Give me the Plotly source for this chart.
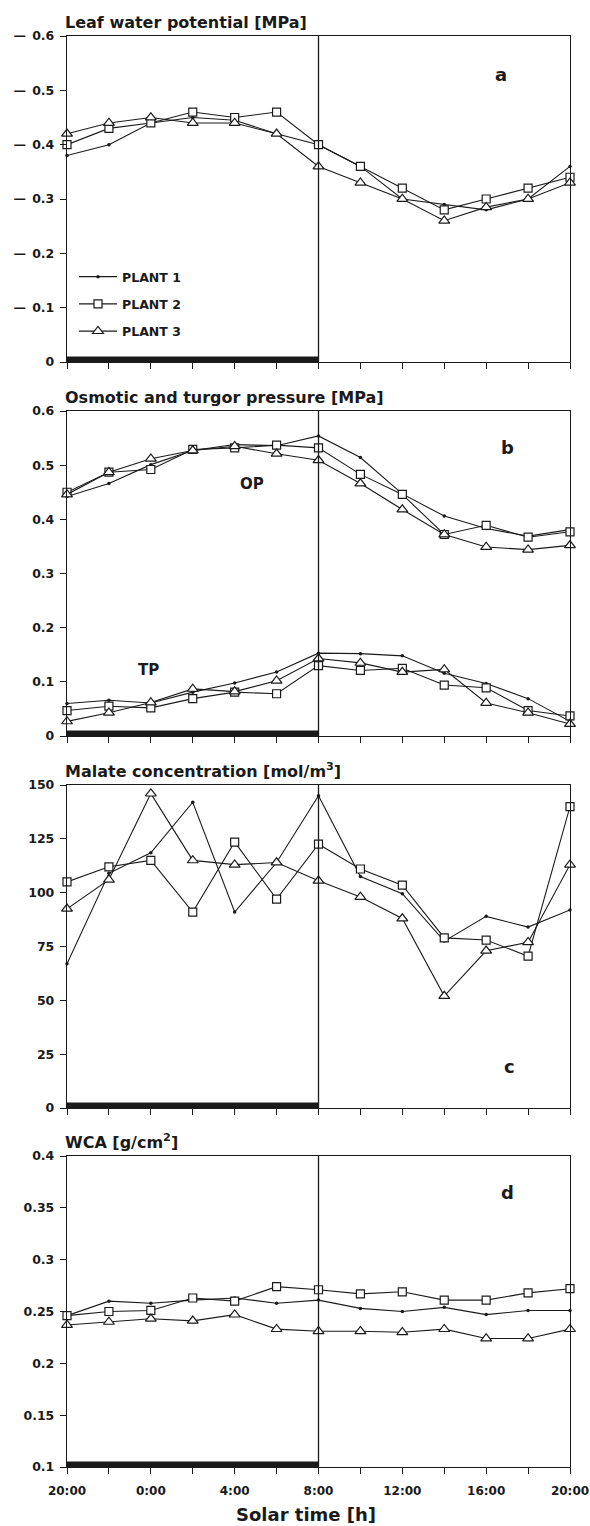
import plotly.graph_objects as go

# ---------------- data ----------------
hours = [0, 2, 4, 6, 8, 10, 12, 14, 16, 18, 20, 22, 24]
time_ticktext = ["20:00", "", "0:00", "", "4:00", "", "8:00", "", "12:00", "", "16:00", "", "20:00"]

# (a) leaf water potential, magnitude of negative MPa
lwp_p1 = [0.38, 0.40, 0.44, 0.45, 0.445, 0.42, 0.40, 0.36, 0.30, 0.29, 0.28, 0.30, 0.36]
lwp_p2 = [0.40, 0.43, 0.44, 0.46, 0.45, 0.46, 0.40, 0.36, 0.32, 0.28, 0.30, 0.32, 0.34]
lwp_p3 = [0.42, 0.44, 0.45, 0.44, 0.44, 0.42, 0.36, 0.33, 0.30, 0.26, 0.285, 0.30, 0.33]

# (b) osmotic pressure (OP) and turgor pressure (TP), MPa
op_p1 = [0.442, 0.466, 0.501, 0.527, 0.538, 0.536, 0.554, 0.514, 0.447, 0.406, 0.383, 0.369, 0.381]
op_p2 = [0.450, 0.487, 0.492, 0.529, 0.532, 0.537, 0.532, 0.483, 0.446, 0.372, 0.389, 0.367, 0.377]
op_p3 = [0.446, 0.487, 0.512, 0.527, 0.535, 0.521, 0.509, 0.466, 0.418, 0.372, 0.349, 0.344, 0.352]
tp_p1 = [0.060, 0.066, 0.061, 0.081, 0.098, 0.118, 0.153, 0.152, 0.148, 0.116, 0.097, 0.069, 0.027]
tp_p2 = [0.047, 0.055, 0.052, 0.069, 0.081, 0.078, 0.130, 0.121, 0.125, 0.094, 0.089, 0.047, 0.037]
tp_p3 = [0.027, 0.043, 0.062, 0.087, 0.082, 0.102, 0.143, 0.135, 0.118, 0.123, 0.061, 0.043, 0.022]

# (c) malate concentration, mol/m3
mal_p1 = [67, 109, 118.5, 142, 91, 114, 145, 107.5, 99.5, 77.5, 89, 84, 92]
mal_p2 = [105, 112, 115, 91, 123.5, 97, 122.5, 111, 103.5, 79, 78, 70.5, 140]
mal_p3 = [92.5, 106, 146, 115, 113, 114, 105.5, 98, 88, 52, 73, 77, 113]

# (d) WCA, g/cm2
wca_p1 = [0.246, 0.260, 0.258, 0.261, 0.263, 0.258, 0.261, 0.253, 0.250, 0.254, 0.247, 0.251, 0.251]
wca_p2 = [0.246, 0.250, 0.251, 0.263, 0.260, 0.274, 0.271, 0.267, 0.269, 0.261, 0.261, 0.268, 0.272]
wca_p3 = [0.237, 0.240, 0.243, 0.241, 0.247, 0.233, 0.231, 0.231, 0.230, 0.233, 0.224, 0.224, 0.233]

plant_names = ["PLANT 1", "PLANT 2", "PLANT 3"]

# ---------------- styling ----------------
FONT = "DejaVu Sans, Verdana, sans-serif"
INK = "#1a1a1a"
W, H = 590, 1526

def py(px):
    return 1 - px / H

X_LEFT, X_RIGHT = 67, 570
x_dom = [X_LEFT / W, X_RIGHT / W]
panels = {
    1: (36, 362),
    2: (411, 736),
    3: (785, 1108),
    4: (1156, 1467),
}

marker_styles = [
    dict(symbol="circle", size=3.5, color=INK, line=dict(width=0)),
    dict(symbol="square", size=8, color="white", line=dict(width=1.2, color=INK)),
    dict(symbol="triangle-up", size=9.5, color="white", line=dict(width=1.2, color=INK)),
]

fig = go.Figure()

def add_series(series, axis_idx, show_legend=False):
    xa = "x" if axis_idx == 1 else f"x{axis_idx}"
    ya = "y" if axis_idx == 1 else f"y{axis_idx}"
    for k, vals in enumerate(series):
        fig.add_trace(go.Scatter(
            x=hours, y=vals, mode="lines+markers",
            name=plant_names[k], legendgroup=f"p{k+1}",
            showlegend=show_legend,
            line=dict(color=INK, width=1.1),
            marker=marker_styles[k],
            cliponaxis=False,
            xaxis=xa, yaxis=ya,
        ))

add_series([lwp_p1, lwp_p2, lwp_p3], 1, show_legend=True)
add_series([op_p1, op_p2, op_p3], 2)
add_series([tp_p1, tp_p2, tp_p3], 2)
add_series([mal_p1, mal_p2, mal_p3], 3)
add_series([wca_p1, wca_p2, wca_p3], 4)

ytick_font = dict(family=FONT, size=12.5, color=INK, weight="bold")
xtick_font = dict(family=FONT, size=12, color=INK, weight="bold")

y_specs = {
    1: dict(range=[0, 0.6], tickvals=[0, 0.1, 0.2, 0.3, 0.4, 0.5, 0.6],
            ticktext=["0"] + ["—\u2002" + v for v in ["0.1", "0.2", "0.3", "0.4", "0.5", "0.6"]]),
    2: dict(range=[0, 0.6], tickvals=[0, 0.1, 0.2, 0.3, 0.4, 0.5, 0.6],
            ticktext=["0", "0.1", "0.2", "0.3", "0.4", "0.5", "0.6"]),
    3: dict(range=[0, 150], tickvals=[0, 25, 50, 75, 100, 125, 150],
            ticktext=["0", "25", "50", "75", "100", "125", "150"]),
    4: dict(range=[0.1, 0.4], tickvals=[0.1, 0.15, 0.2, 0.25, 0.3, 0.35, 0.4],
            ticktext=["0.1", "0.15", "0.2", "0.25", "0.3", "0.35", "0.4"]),
}

layout = dict(
    width=W, height=H, autosize=False,
    margin=dict(l=0, r=0, t=0, b=0, pad=0, autoexpand=False),
    paper_bgcolor="white", plot_bgcolor="white",
    font=dict(family=FONT, color=INK),
    showlegend=True,
    legend=dict(
        x=74 / W, y=py(262), xanchor="left", yanchor="top",
        font=dict(family=FONT, size=12.5, color=INK, weight="bold"),
        bgcolor="rgba(0,0,0,0)", tracegroupgap=8, itemwidth=38,
    ),
)

for i, (top, bot) in panels.items():
    xk = "xaxis" if i == 1 else f"xaxis{i}"
    yk = "yaxis" if i == 1 else f"yaxis{i}"
    anchor_y = "y" if i == 1 else f"y{i}"
    anchor_x = "x" if i == 1 else f"x{i}"
    layout[xk] = dict(
        domain=x_dom, anchor=anchor_y, range=[0, 24], automargin=False,
        tickvals=hours, ticktext=time_ticktext if i == 4 else [""] * len(hours),
        ticks="outside", ticklen=6, tickwidth=1.3, tickcolor=INK,
        showline=True, linecolor=INK, linewidth=1.4, mirror=True,
        showgrid=False, zeroline=False, tickfont=xtick_font,
        ticklabelstandoff=6, ticklabeloverflow="allow",
        fixedrange=True,
    )
    ys = y_specs[i]
    layout[yk] = dict(
        domain=[py(bot), py(top)], anchor=anchor_x, automargin=False,
        range=ys["range"], tickvals=ys["tickvals"], ticktext=ys["ticktext"],
        ticks="outside", ticklen=6, tickwidth=1.3, tickcolor=INK,
        showline=True, linecolor=INK, linewidth=1.4, mirror=True,
        showgrid=False, zeroline=False, tickfont=ytick_font,
        ticklabelstandoff=3, ticklabeloverflow="allow",
        fixedrange=True,
    )

fig.update_layout(**layout)

# x-axis title as a bottom annotation (kept inside the page)
fig.add_annotation(text="Solar time [h]", xref="paper", yref="paper",
                   x=306 / W, y=py(1514), xanchor="center", yanchor="middle",
                   showarrow=False,
                   font=dict(family=FONT, size=18, color=INK, weight="bold"))

# vertical 8:00 line and night bar in each panel
for i in panels:
    xr = "x" if i == 1 else f"x{i}"
    yd = "y domain" if i == 1 else f"y{i} domain"
    fig.add_shape(type="line", xref=xr, yref=yd, x0=12, x1=12, y0=0, y1=1,
                  line=dict(color=INK, width=1.3))
    fig.add_shape(type="line", xref=xr, yref=yd, x0=0, x1=12, y0=0.008, y1=0.008,
                  line=dict(color=INK, width=6))

# panel titles
titles = {
    1: "Leaf water potential [MPa]",
    2: "Osmotic and turgor pressure [MPa]",
    3: "Malate concentration [mol/m<sup>3</sup>]",
    4: "WCA [g/cm<sup>2</sup>]",
}
for i, (top, bot) in panels.items():
    fig.add_annotation(text=titles[i], xref="paper", yref="paper",
                       x=63 / W, y=py(top), xanchor="left", yanchor="bottom",
                       yshift=2, showarrow=False,
                       font=dict(family=FONT, size=16, color=INK, weight="bold"))

# panel letters
letters = [(1, "a", 20.7, 0.53), (2, "b", 21.0, 0.532), (3, "c", 21.1, 19.3), (4, "d", 21.0, 0.365)]
for i, t, xv, yv in letters:
    fig.add_annotation(text=t, xref="x" if i == 1 else f"x{i}", yref="y" if i == 1 else f"y{i}",
                       x=xv, y=yv, showarrow=False,
                       font=dict(family=FONT, size=18, color=INK, weight="bold"))

# OP / TP labels
fig.add_annotation(text="OP", xref="x2", yref="y2", x=8.85, y=0.466, showarrow=False,
                   font=dict(family=FONT, size=15, color=INK, weight="bold"))
fig.add_annotation(text="TP", xref="x2", yref="y2", x=3.9, y=0.121, showarrow=False,
                   font=dict(family=FONT, size=15, color=INK, weight="bold"))

fig.write_html(
    "out.html",
    config={"displayModeBar": False},
    post_script="document.body.style.margin='0px';"
                "document.documentElement.style.overflow='hidden';",
)
